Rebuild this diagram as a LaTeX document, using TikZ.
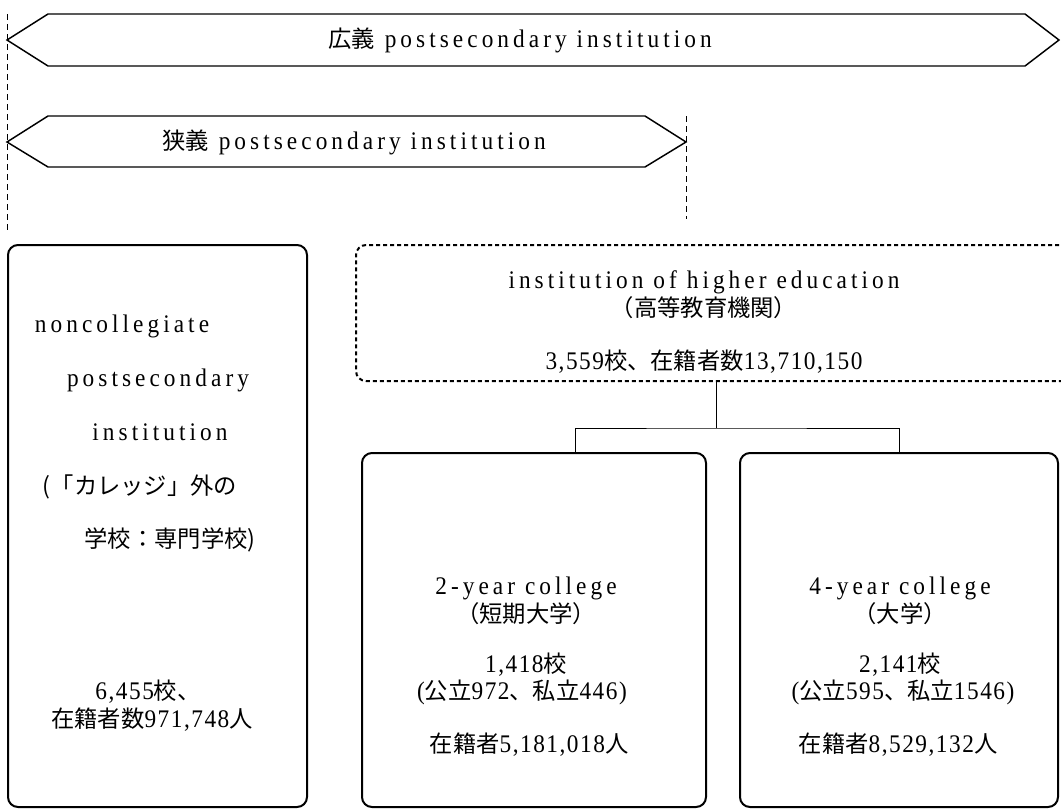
\documentclass[tikz,border=0pt]{standalone}
\usepackage{fontspec}
\setmainfont{Liberation Serif}[LetterSpace=16, FakeStretch=0.92]
\newfontfamily\numf{Liberation Serif}[LetterSpace=6, FakeStretch=0.92]
\newfontfamily\jp{Noto Sans CJK JP}[Scale=0.92]
\begin{document}
\begin{tikzpicture}[x=0.75pt,y=-0.75pt,
  box/.style={draw, line width=1.5pt, rounded corners=7.5pt, inner sep=0pt},
  dbox/.style={box, dash pattern=on 3pt off 2.25pt},
  guide/.style={line width=0.7pt, dash pattern=on 4.5pt off 3pt},
  arrowline/.style={line width=1.1pt, line join=miter},
  conn/.style={line width=0.75pt},
  txt/.style={font=\fontsize{19}{21}\selectfont, inner sep=0pt, align=center}]
\useasboundingbox (0,0) rectangle (1061,808);
\clip (0,0) rectangle (1061,808);

% wide arrow
\coordinate (wa) at (7,40);
\coordinate (wb) at (48,14);
\coordinate (wc) at (1025,14);
\coordinate (wd) at (1059,40);
\coordinate (we) at (1025,66);
\coordinate (wf) at (48,66);
\draw[arrowline] (wa) -- (wb) -- (wc) -- (wd) -- (we) -- (wf) -- cycle;
\node[txt] (wtext) at (520,40) {{\jp 広義} postsecondary institution};

% narrow arrow
\coordinate (na) at (7,142);
\coordinate (nb) at (48,116);
\coordinate (nc) at (645,116);
\coordinate (nd) at (686,142);
\coordinate (ne) at (645,167);
\coordinate (nf) at (48,167);
\draw[arrowline] (na) -- (nb) -- (nc) -- (nd) -- (ne) -- (nf) -- cycle;
\node[txt] (ntext) at (354,142) {{\jp 狭義} postsecondary institution};

% guide lines
\coordinate (g1top) at (7,14);
\coordinate (g1bot) at (7,233);
\coordinate (g2top) at (686,116);
\coordinate (g2bot) at (686,219);
\draw[guide] (g1top) -- (g1bot);
\draw[guide] (g2top) -- (g2bot);

% boxes
\node[box, minimum width=299*0.75pt, minimum height=562*0.75pt] (left) at (157.5,526) {};
\node[dbox, minimum width=720*0.75pt, minimum height=136*0.75pt] (hie) at (716,313) {};
\node[box, minimum width=344*0.75pt, minimum height=354*0.75pt] (b2) at (534,630) {};
\node[box, minimum width=318*0.75pt, minimum height=354*0.75pt] (b4) at (899,630) {};

% left box text
\node[txt] (l1) at (122,326) {noncollegiate};
\node[txt] (l2) at (158,380) {postsecondary};
\node[txt] (l3) at (160,432) {institution};
\node[txt] (l4) at (140,487) {{\jp (「カレッジ」外の}};
\node[txt] (l5) at (170,540) {{\jp 学校：専門学校)}};
\node[txt] (l6) at (148,692) {{\numf 6,455}{\jp 校、}};
\node[txt] (l7) at (152,720) {{\jp 在籍者数}{\numf 971,748}{\jp 人}};

% higher education text
\node[txt] (h1) at (704,282) {institution of higher education};
\node[txt] (h2) at (704,308) {{\jp （高等教育機関）}};
\node[txt] (h3) at (704,362) {{\numf 3,559}{\jp 校、在籍者数}{\numf 13,710,150}};

% 2-year text
\node[txt] (t1) at (526,588) {2-year college};
\node[txt] (t2) at (526,614) {{\jp （短期大学）}};
\node[txt] (t3) at (526,665) {{\numf 1,418}{\jp 校}};
\node[txt] (t4) at (522,692) {{\numf (}{\jp 公立}{\numf 972}{\jp 、私立}{\numf 446)}};
\node[txt] (t5) at (529,745) {{\jp 在籍者}{\numf 5,181,018}{\jp 人}};

% 4-year text
\node[txt] (f1) at (900,588) {4-year college};
\node[txt] (f2) at (900,614) {{\jp （大学）}};
\node[txt] (f3) at (900,665) {{\numf 2,141}{\jp 校}};
\node[txt] (f4) at (903,692) {{\numf (}{\jp 公立}{\numf 595}{\jp 、私立}{\numf 1546)}};
\node[txt] (f5) at (898,745) {{\jp 在籍者}{\numf 8,529,132}{\jp 人}};

% connectors
\coordinate (j) at ([yshift=-34.5pt]hie.south);
\draw[conn] (hie.south) -- (j);
\draw[conn] ([xshift=30.75pt]b2.north) |- (j) -| (b4.north);
\end{tikzpicture}
\end{document}
